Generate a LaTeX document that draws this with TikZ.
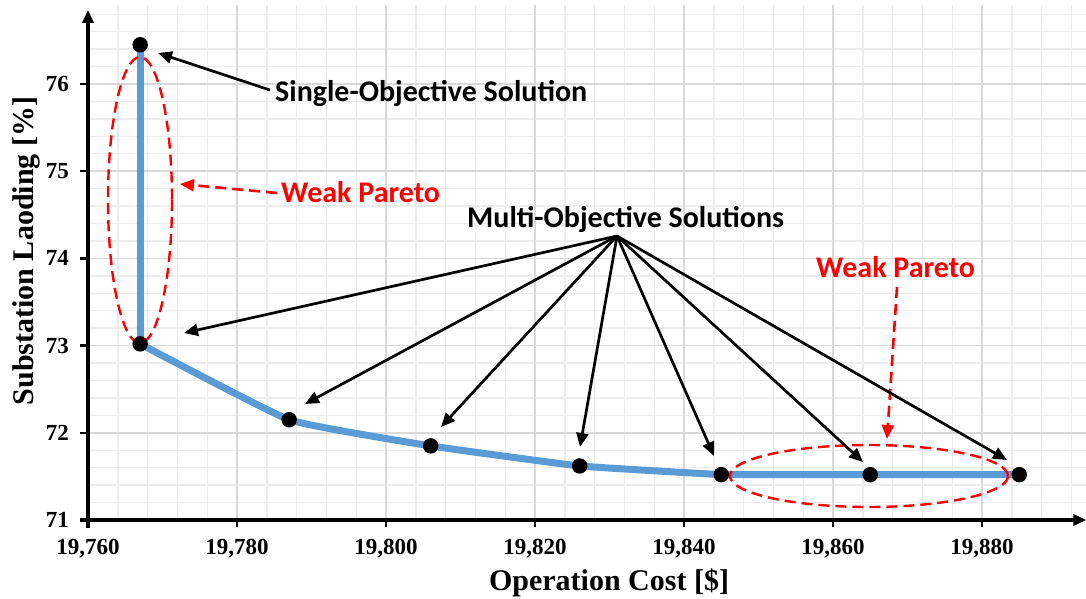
\documentclass[tikz,border=0pt]{standalone}
\usepackage{fontspec}
\setmainfont{Liberation Serif}
\newfontfamily\annfont{Carlito}
\usetikzlibrary{arrows.meta}

\definecolor{gridmajor}{HTML}{D9D9D9}
\definecolor{gridminor}{HTML}{EDEDED}
\definecolor{frontblue}{HTML}{5B9BD5}
\definecolor{paretored}{HTML}{FF0000}

\tikzset{
  axisline/.style={line width=3.4pt, black},
  axistip/.style={-{Triangle[length=13pt,width=11pt]}},
  ticklabel/.style={font=\bfseries\fontsize{23}{26}\selectfont, inner sep=0pt},
  axistitle/.style={font=\bfseries\fontsize{30}{34}\selectfont, inner sep=0pt},
  annot/.style={font=\annfont\bfseries\fontsize{30}{34}\selectfont, inner sep=0pt},
  pointer/.style={line width=2.7pt, black, -{Triangle[length=14pt,width=12pt]}},
  redpointer/.style={line width=2.6pt, paretored, dash pattern=on 11pt off 6pt, -{Triangle[length=14pt,width=12pt]}},
  paretoring/.style={line width=2.4pt, paretored, dash pattern=on 11pt off 6pt},
  solution/.style={circle, fill=black, minimum size=15.5pt, inner sep=0pt},
}

\begin{document}
\begin{tikzpicture}[x=1pt, y=-1pt]
\useasboundingbox (0,0) rectangle (1086,599);

% ---------- data frame: origin at (19760, 71) ----------
\begin{scope}[shift={(88pt,-520pt)}, x=7.45pt, y=87.2pt]
  % minor grid
  \foreach \gx in {4,8,...,132}
    \draw[gridminor, line width=1.4pt] (\gx,0) -- (\gx,5.906);
  \foreach \gy in {0.2,0.4,...,5.81}
    \draw[gridminor, line width=1.4pt] (0,\gy) -- (134,\gy);
  % major grid
  \foreach \gx in {20,40,...,120}
    \draw[gridmajor, line width=1.6pt] (\gx,0) -- (\gx,5.906);
  \foreach \gy in {1,2,...,5}
    \draw[gridmajor, line width=1.6pt] (0,\gy) -- (134,\gy);

  % axes
  \coordinate (xstart) at (-1.07,0);
  \coordinate (xend) at (134,0);
  \coordinate (ystart) at (0,-0.09);
  \coordinate (yend) at (0,5.85);
  \draw[axisline, axistip] (xstart) -- (xend);
  \draw[axisline, axistip] (ystart) -- (yend);

  % ticks and tick labels
  \foreach \gx/\lab in {0/19{,}760, 20/19{,}780, 40/19{,}800, 60/19{,}820, 80/19{,}840, 100/19{,}860, 120/19{,}880} {
    \draw[line width=2.4pt] (\gx,0) -- (\gx,-0.085);
    \node[ticklabel, anchor=base] (xl\gx) at ([yshift=-34pt]\gx,0) {\lab};
  }
  \foreach \gy/\lab in {0/71, 1/72, 2/73, 3/74, 4/75, 5/76} {
    \draw[line width=2.4pt] (0,\gy) -- (-1.07,\gy);
    \node[ticklabel, anchor=east] (yl\lab) at ([xshift=-19pt]0,\gy) {\lab};
  }

  % Pareto front points
  \coordinate (p1) at (7,5.45);
  \coordinate (p2) at (7,2.02);
  \coordinate (p3) at (27,1.15);
  \coordinate (p4) at (46,0.85);
  \coordinate (p5) at (66,0.62);
  \coordinate (p6) at (85,0.52);
  \coordinate (p7) at (105,0.52);
  \coordinate (p8) at (125,0.52);
\end{scope}

% ---------- Pareto front ----------
\draw[frontblue, line width=7pt] (p1) -- (p2);
\draw[frontblue, line width=7pt, line join=round]
  plot[smooth, tension=0.22] coordinates {(p2) (p3) (p4) (p5) (p6)} -- (p8);

% weak Pareto regions
\draw[paretoring] (140,200) ellipse [x radius=32, y radius=143];
\draw[paretoring] (869,476) ellipse [x radius=139, y radius=31];

% solution markers
\foreach \i in {1,...,8}
  \node[solution] (s\i) at (p\i) {};

% ---------- annotations ----------
\node[annot, anchor=base west] (single) at (275,102) {Single-Objective Solution};
\node[annot, anchor=base west, text=paretored] (weakA) at (281,202) {Weak Pareto};
\node[annot, anchor=base west] (multi) at (467,227) {Multi-Objective Solutions};
\node[annot, anchor=base west, text=paretored] (weakB) at (816,277) {Weak Pareto};

\coordinate (singleFrom) at (270,90);
\coordinate (singleTip) at (158,53);
\draw[pointer] (singleFrom) -- (singleTip);

\coordinate (weakAFrom) at (277,193);
\coordinate (weakATip) at (180,184);
\draw[redpointer] (weakAFrom) -- (weakATip);

\coordinate (weakBFrom) at (897,287);
\coordinate (weakBTip) at (887,439);
\draw[redpointer] (weakBFrom) -- (weakBTip);

\coordinate (hub) at (617,236);
\coordinate (t1) at (184,333);
\coordinate (t2) at (305,404);
\coordinate (t3) at (441,427);
\coordinate (t4) at (580,447);
\coordinate (t5) at (714,456);
\coordinate (t6) at (863,462);
\coordinate (t7) at (1007,460);
\foreach \t in {t1,t2,t3,t4,t5,t6,t7}
  \draw[pointer] (hub) -- (\t);

% axis titles
\node[axistitle, anchor=base] (xtitle) at (609,590) {Operation Cost [\$]};
\node[axistitle, anchor=base, rotate=90] (ytitle) at (33,251) {Substation Laoding [\%]};
\end{tikzpicture}
\end{document}
